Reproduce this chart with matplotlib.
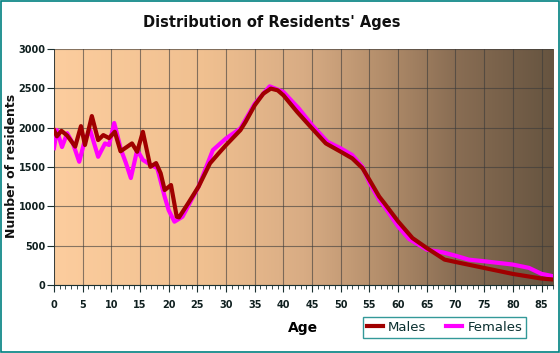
import matplotlib
matplotlib.use("Agg")
import matplotlib.pyplot as plt
import numpy as np
from matplotlib.colors import LinearSegmentedColormap
from matplotlib.patches import Rectangle

# values
male_age = [0, 0.5, 1.3, 2.3, 3.7, 4.7, 5.4, 6.6, 7.7, 8.6, 9.6, 10.6, 11.6, 12.6,
            13.6, 14.5, 15.5, 16.8, 17.8, 18.6, 19.3, 20.4, 21.4, 21.8, 23.4, 25.2,
            27.2, 28.7, 30, 32.5, 33.4, 35, 36.5, 37.8, 39, 40, 42.4, 45, 47.4, 50,
            52, 53.8, 55, 56.7, 57.6, 60, 62.5, 65, 68.1, 70, 75, 80, 85, 87]
male_n = [1970, 1890, 1960, 1900, 1760, 2020, 1780, 2148, 1843, 1906, 1868, 1948,
          1700, 1750, 1800, 1694, 1948, 1503, 1550, 1420, 1207, 1271, 868, 860, 1040,
          1250, 1547, 1673, 1779, 1969, 2074, 2285, 2433, 2497, 2475, 2412, 2200,
          1990, 1800, 1694, 1610, 1484, 1336, 1124, 1040, 808, 597, 470, 323, 293,
          217, 141, 82, 70]

female_age = [0, 0.5, 1.4, 2.3, 3.3, 4.4, 5.4, 6.3, 7.7, 8.9, 9.6, 10.5, 11.7, 12.5,
              13.4, 14.5, 15.5, 16.9, 18, 19.3, 20, 21, 22.4, 25.2, 27.7, 30, 32.5,
              35, 37.6, 40, 42.7, 45, 47.7, 50, 52, 53.8, 55, 56.7, 57.6, 60, 61.9,
              65, 67.8, 70, 72.3, 75, 80, 82.8, 85, 87]
female_n = [1740, 1970, 1754, 1930, 1800, 1567, 1850, 1970, 1630, 1800, 1780, 2060,
            1716, 1560, 1360, 1716, 1590, 1525, 1487, 1122, 950, 805, 868, 1250, 1715,
            1864, 1990, 2306, 2526, 2454, 2243, 2032, 1820, 1737, 1652, 1500, 1300,
            1082, 998, 744, 585, 450, 415, 373, 323, 302, 260, 218, 142, 112]

x_ticks = list(range(0, 90, 5))
y_ticks = list(range(0, 3500, 500))

fig = plt.figure(figsize=(5.6, 3.53), dpi=100)
fig.patch.set_facecolor("white")
fig.add_artist(Rectangle((0.001, 0.002), 0.997, 0.995, transform=fig.transFigure,
                         fill=False, edgecolor="#008080", lw=1.2))

ax = fig.add_axes([0.0964, 0.1926, 0.8911, 0.6685])

# horizontal background gradient
bg = LinearSegmentedColormap.from_list("bg", [
    (0.0, "#fccd9e"), (0.3, "#f0c090"), (0.5, "#d8ac84"),
    (0.65, "#b58f6c"), (0.8, "#8a6e54"), (1.0, "#665440")])
ax.imshow(np.linspace(0, 1, 256).reshape(1, -1), cmap=bg, aspect="auto",
          extent=[0, 87, 0, 3000], zorder=0)

ax.plot(female_age, female_n, color="#ff00ff", lw=3, label="Females", zorder=3,
        solid_joinstyle="round")
ax.plot(male_age, male_n, color="#a00000", lw=3, label="Males", zorder=4,
        solid_joinstyle="round")

ax.set_xlim(0, 87)
ax.set_ylim(0, 3000)
ax.set_xticks(x_ticks)
ax.set_xticks(range(0, 88), minor=True)
ax.set_yticks(y_ticks)
ax.grid(True, which="major", color="#3a3a3a", alpha=0.6, lw=0.8)
ax.set_axisbelow(False)
for s in ax.spines.values():
    s.set_visible(False)
ax.spines["bottom"].set_visible(True)
ax.spines["bottom"].set_color("#1a3030")
ax.spines["left"].set_visible(True)
ax.spines["left"].set_color("#1a3030")
ax.spines["left"].set_linewidth(0.6)
ax.tick_params(axis="x", which="major", length=5, color="#1a3030", labelsize=7,
               pad=6, labelcolor="#102020")
ax.tick_params(axis="x", which="minor", length=3, color="#1a3030")
ax.tick_params(axis="y", length=5, pad=1, color="#1a3030", labelsize=7,
               labelcolor="#102020")
for t in ax.get_xticklabels() + ax.get_yticklabels():
    t.set_fontweight("bold")

ax.set_xlabel("Age", fontsize=10, fontweight="bold", labelpad=8)
fig.text(11.5 / 560, 1 - 166 / 353, "Number of residents", fontsize=9,
         fontweight="bold", rotation=90, ha="center", va="center", color="#101010")
fig.text(272 / 560, 1 - 23 / 353, "Distribution of Residents' Ages", fontsize=10.5,
         fontweight="bold", ha="center", va="center", color="#101010")

h, l = ax.get_legend_handles_labels()
leg = fig.legend([h[1], h[0]], [l[1], l[0]], loc="center",
                 bbox_to_anchor=(444.5 / 560, 1 - 327.5 / 353), ncol=2,
                 frameon=True, fontsize=9.5, handlelength=1.2, handletextpad=0.4,
                 columnspacing=1.5, fancybox=False, borderpad=0.3)
leg.get_frame().set_edgecolor("#008080")
leg.get_frame().set_linewidth(1)
for t in leg.get_texts():
    t.set_color("#0a3030")

fig.savefig("out.png", dpi=100)
